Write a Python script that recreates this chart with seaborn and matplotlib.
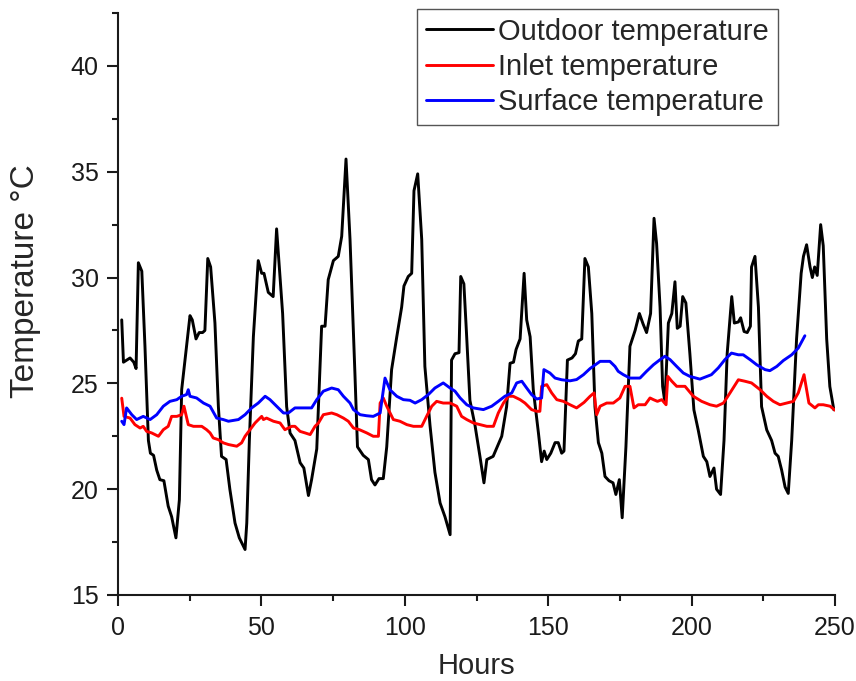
import seaborn as sns
import matplotlib.pyplot as plt
from matplotlib.ticker import MultipleLocator

# outdoor temperature (hours, degC)
outdoor_h = [1.3, 1.9, 4.2, 5.5, 6.3, 7.1, 8.3, 9.4, 10.6, 11.3, 12.4, 13.5, 14.6, 16.0, 17.5, 18.7,
             20.2, 21.4, 22.2, 23.9, 25.1, 25.9, 27.2, 28.3, 29.5, 30.3, 31.3, 32.3, 33.8, 35.0, 36.1,
             37.7, 39.0, 40.8, 42.3, 44.3, 44.9, 45.8, 47.2, 48.9, 50.1, 50.9, 52.4, 54.1, 55.3, 57.4,
             58.8, 60.0, 61.7, 63.5, 64.8, 66.4, 67.5, 69.3, 71.0, 72.2, 73.3, 75.1, 76.8, 78.0, 79.5,
             80.9, 82.6, 83.5, 85.5, 87.3, 88.4, 89.6, 91.0, 92.5, 93.7, 95.4, 97.2, 98.9, 99.7, 101.2,
             102.4, 103.2, 104.5, 105.9, 107.0, 108.8, 110.5, 112.3, 114.0, 115.8, 116.3, 117.5, 118.9,
             119.5, 120.6, 121.5, 122.7, 124.5, 126.2, 127.6, 128.6, 130.8, 131.9, 133.8, 135.5, 136.7,
             137.9, 138.8, 140.2, 141.6, 142.5, 143.7, 144.8, 146.6, 147.7, 148.6, 149.5, 150.9, 152.4,
             153.5, 154.7, 155.5, 156.7, 158.3, 159.5, 160.5, 161.7, 162.8, 164.0, 165.2, 166.3, 167.5,
             168.7, 169.8, 171.2, 172.6, 173.6, 174.8, 175.8, 177.1, 178.5, 180.3, 181.8, 183.1, 184.3,
             185.7, 186.9, 187.8, 189.0, 189.9, 190.7, 191.9, 193.1, 194.2, 195.0, 196.0, 196.9, 198.0,
             199.4, 200.8, 202.3, 204.1, 205.3, 206.4, 207.8, 208.7, 210.1, 211.3, 212.4, 214.0, 214.9,
             216.3, 217.1, 218.3, 219.4, 220.5, 220.9, 222.1, 223.3, 224.4, 226.2, 227.9, 229.1, 230.2,
             231.4, 232.6, 233.7, 234.9, 236.6, 238.2, 239.0, 240.1, 241.3, 242.1, 242.9, 243.8, 245.0,
             245.9, 247.1, 248.2, 249.6]
outdoor_t = [28.0, 26.0, 26.2, 26.0, 25.7, 30.7, 30.3, 26.75, 22.3, 21.7, 21.6, 20.9, 20.45, 20.4, 19.2, 18.7,
             17.7, 19.5, 24.7, 26.75, 28.2, 28.0, 27.1, 27.4, 27.4, 27.5, 30.9, 30.5, 27.85, 23.9, 21.55,
             21.4, 20.0, 18.4, 17.7, 17.15, 18.4, 22.3, 27.2, 30.8, 30.2, 30.2, 29.3, 29.1, 32.3, 28.3,
             23.9, 22.65, 22.3, 21.25, 21.0, 19.7, 20.45, 21.9, 27.7, 27.7, 29.9, 30.8, 31.0, 31.95, 35.6,
             31.8, 25.5, 22.0, 21.6, 21.4, 20.45, 20.2, 20.5, 20.5, 22.0, 25.65, 27.2, 28.6, 29.6, 30.05,
             30.2, 34.1, 34.9, 31.8, 25.8, 23.0, 20.8, 19.35, 18.7, 17.85, 26.1, 26.4, 26.45,
             30.05, 29.7, 27.4, 24.2, 23.0, 21.55, 20.3, 21.4, 21.55, 21.9, 22.5, 23.9, 25.95,
             26.0, 26.6, 27.1, 30.2, 28.0, 27.2, 24.7, 22.65, 21.3, 21.8, 21.4, 21.7, 22.2,
             22.2, 21.7, 21.8, 26.1, 26.2, 26.4, 27.0, 27.1, 30.9, 30.5, 28.3, 23.9, 22.2,
             21.7, 20.6, 20.4, 20.3, 19.75, 20.45, 18.65, 22.0, 26.75, 27.5, 28.3, 27.8, 27.4,
             28.3, 32.8, 31.6, 28.6, 24.85, 24.1, 27.85, 28.3, 29.8, 27.6, 27.7, 29.1, 28.8,
             26.4, 23.75, 22.8, 21.55, 21.3, 20.6, 21.0, 20.0, 19.75, 22.3, 26.4, 29.1, 27.85,
             27.9, 28.1, 27.45, 27.4, 27.7, 30.5, 31.0, 28.6, 23.9, 22.8, 22.3, 21.7, 21.55,
             20.9, 20.1, 19.8, 22.3, 27.1, 30.2, 31.0, 31.55, 30.5, 30.0, 30.5, 30.1, 32.5,
             31.5, 27.1, 24.85, 23.75]

# inlet temperature
inlet_h = [1.3, 2.1, 4.2, 5.9, 7.7, 8.8, 10.0, 11.7, 14.1, 15.8, 17.5, 18.7, 20.5, 22.2, 23.0, 24.5,
           26.3, 29.2, 30.9, 32.1, 33.2, 35.0, 36.7, 38.5, 41.4, 43.1, 44.3, 46.0, 47.8, 50.1, 50.7,
           51.8, 54.2, 56.5, 58.2, 60.6, 61.7, 63.5, 65.2, 67.0, 68.7, 69.9, 71.6, 74.5, 76.3, 78.6,
           80.3, 82.1, 84.2, 86.7, 89.0, 90.8, 91.4, 92.5, 93.7, 96.0, 98.3, 100.7, 103.0, 105.9,
           107.6, 109.4, 111.1, 113.4, 115.8, 118.1, 119.8, 121.6, 123.9, 126.2, 128.6, 130.9, 132.6,
           134.4, 136.1, 137.8, 140.2, 141.9, 144.2, 146.0, 147.1, 147.7, 149.5, 151.2, 153.0, 155.3,
           157.6, 159.9, 162.5, 164.6, 166.0, 166.9, 168.1, 170.4, 172.7, 175.0, 176.8, 178.5, 179.9,
           181.4, 183.8, 185.5, 186.7, 188.1, 189.6, 191.1, 191.7, 193.1, 194.8, 197.7, 200.6, 203.5,
           206.4, 208.7, 211.1, 213.4, 216.3, 218.6, 220.9, 223.9, 226.2, 228.5, 230.8, 233.2, 235.5,
           237.2, 239.2, 240.9, 243.0, 244.2, 245.9, 248.3, 250.0]
inlet_t = [24.3, 23.44, 23.36, 23.05, 22.89, 22.97, 22.73, 22.66, 22.5, 22.81, 22.97, 23.44, 23.44, 23.52,
           23.92, 23.05, 22.97, 22.97, 22.81, 22.66, 22.42, 22.34, 22.19, 22.11, 22.03, 22.19, 22.5,
           22.81, 23.13, 23.44, 23.29, 23.36, 23.21, 23.13, 22.81, 22.97, 22.97, 22.73, 22.66, 22.58,
           22.97, 23.13, 23.52, 23.6, 23.52, 23.36, 23.21, 22.89, 22.81, 22.66, 22.5, 22.5, 24.07,
           24.31, 23.92, 23.29, 23.21, 23.05, 22.97, 22.97, 23.44, 23.92, 24.15, 24.07, 24.07, 23.92,
           23.44, 23.29, 23.13, 23.05, 22.97, 22.97, 23.6, 24.07, 24.39, 24.39, 24.23, 24.07, 23.76,
           23.68, 23.68, 24.86, 24.94, 24.55, 24.23, 24.15, 23.99, 23.84, 24.1, 24.39, 24.55, 23.52,
           23.92, 24.07, 24.07, 24.31, 24.86, 24.86, 23.84, 23.99, 23.99, 24.31, 24.23, 24.15, 24.23,
           23.99, 25.33, 25.1, 24.86, 24.86, 24.39, 24.15, 23.99, 23.92, 24.07, 24.55, 25.17, 25.1,
           25.02, 24.7, 24.39, 24.15, 23.99, 24.07, 24.15, 24.55, 25.41, 24.07, 23.84, 23.99, 23.99,
           23.92, 23.73]

# surface temperature
surface_h = [1.3, 2.1, 3.0, 4.8, 6.5, 8.8, 11.2, 13.5, 15.8, 18.1, 20.5, 22.2, 23.9, 24.5, 25.1, 27.4,
             29.8, 32.1, 34.4, 36.7, 38.5, 42.0, 44.3, 46.6, 48.9, 51.3, 53.0, 55.3, 57.7, 59.4, 61.7,
             64.0, 67.5, 69.3, 71.6, 74.5, 76.8, 78.6, 80.9, 82.1, 84.4, 86.7, 89.0, 91.4, 93.1, 94.8,
             97.2, 99.5, 101.8, 103.6, 105.9, 108.2, 110.5, 113.4, 115.8, 117.5, 119.3, 121.6, 123.9,
             127.4, 130.3, 132.6, 134.9, 137.3, 139.0, 140.8, 142.5, 144.2, 146.0, 147.7, 148.5, 150.6,
             152.4, 154.7, 157.6, 159.9, 162.3, 164.6, 168.1, 171.5, 173.3, 174.4, 176.2, 178.5, 182.0,
             184.3, 186.7, 189.0, 190.7, 192.5, 194.8, 197.1, 199.4, 202.9, 206.9, 209.3, 211.6, 213.9,
             216.3, 218.0, 220.4, 222.7, 225.6, 227.3, 229.7, 232.0, 234.9, 237.2, 239.5]
surface_t = [23.21, 23.05, 23.84, 23.52, 23.29, 23.44, 23.29, 23.52, 23.92, 24.15, 24.23, 24.39, 24.47,
             24.7, 24.39, 24.31, 24.07, 23.92, 23.36, 23.29, 23.21, 23.29, 23.52, 23.84, 24.07, 24.39,
             24.23, 23.92, 23.6, 23.6, 23.84, 23.84, 23.84, 24.23, 24.63, 24.78, 24.7, 24.39, 24.07,
             23.76, 23.52, 23.47, 23.44, 23.6, 25.25, 24.7, 24.39, 24.23, 24.2, 24.07, 24.23, 24.47,
             24.78, 25.02, 24.78, 24.63, 24.31, 23.99, 23.84, 23.76, 23.92, 24.15, 24.39, 24.55, 25.02,
             25.1, 24.78, 24.47, 24.26, 24.31, 25.65, 25.49, 25.25, 25.17, 25.12, 25.18, 25.41, 25.7,
             26.04, 26.04, 25.8, 25.57, 25.41, 25.25, 25.25, 25.57, 25.88, 26.12, 26.28, 26.12, 25.8,
             25.49, 25.33, 25.2, 25.41, 25.73, 26.12, 26.43, 26.35, 26.35, 26.12, 25.88, 25.65, 25.6,
             25.8, 26.08, 26.35, 26.67, 27.25]

sns.set_style("ticks")
plt.rcParams['font.family'] = ['Liberation Sans', 'DejaVu Sans']

fig = plt.figure(figsize=(8.56, 6.81), dpi=100)
ax = fig.add_axes([118 / 856, 1 - 595 / 681, (835 - 118) / 856, (595 - 13) / 681])

sns.lineplot(x=outdoor_h, y=outdoor_t, color="black", lw=2.1, label="Outdoor temperature", ax=ax)
sns.lineplot(x=inlet_h, y=inlet_t, color="#ff0000", lw=2.1, label="Inlet temperature", ax=ax)
sns.lineplot(x=surface_h, y=surface_t, color="#0000ff", lw=2.1, label="Surface temperature", ax=ax)

ax.set_xlim(0, 250)
ax.set_ylim(15, 42.5)
ax.xaxis.set_major_locator(MultipleLocator(50))
ax.xaxis.set_minor_locator(MultipleLocator(25))
ax.yaxis.set_major_locator(MultipleLocator(5))
ax.yaxis.set_minor_locator(MultipleLocator(2.5))
ax.tick_params(which="major", direction="out", length=8, width=1.5, labelsize=18, colors="#1a1a1a")
ax.tick_params(which="minor", direction="out", length=4.5, width=1.5, colors="#1a1a1a")
ax.tick_params(axis="x", which="major", pad=7)
ax.tick_params(axis="y", which="major", pad=6)
for s in ["left", "bottom"]:
    ax.spines[s].set_linewidth(1.5)
    ax.spines[s].set_color("#1a1a1a")
sns.despine(ax=ax)

ax.set_xlabel("Hours", fontsize=21, labelpad=9)
ax.set_ylabel("Temperature °C", fontsize=24)
ax.yaxis.set_label_coords(-0.107, 0.54)

leg = ax.legend(loc="upper right", bbox_to_anchor=(0.9205, 1.007), fontsize=21, frameon=True,
                fancybox=False, framealpha=1, edgecolor="#555555", borderaxespad=0,
                handlelength=2.3, handletextpad=0.2, labelspacing=0.25, borderpad=0.3)
leg.get_frame().set_linewidth(1.0)

fig.savefig("out.png", dpi=100)
